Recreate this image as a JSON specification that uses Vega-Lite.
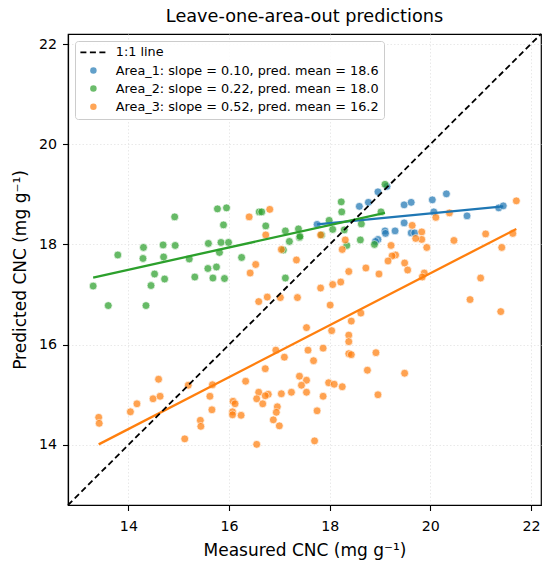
{
  "$schema": "https://vega.github.io/schema/vega-lite/v6.json",
  "width": 473,
  "height": 471,
  "autosize": {"type": "none"},
  "padding": {"left": 68, "top": 34, "right": 9, "bottom": 63},
  "background": "white",
  "title": {
    "text": "Leave-one-area-out predictions",
    "fontSize": 17.7,
    "fontWeight": "normal",
    "color": "black",
    "offset": 5
  },
  "datasets": {
    "pts": [
      {"area": "Area_1", "measured": 17.75, "predicted": 18.40},
      {"area": "Area_1", "measured": 18.59, "predicted": 18.76},
      {"area": "Area_1", "measured": 18.77, "predicted": 18.84},
      {"area": "Area_1", "measured": 18.96, "predicted": 19.05},
      {"area": "Area_1", "measured": 19.14, "predicted": 19.16},
      {"area": "Area_1", "measured": 19.48, "predicted": 18.79},
      {"area": "Area_1", "measured": 19.62, "predicted": 18.84},
      {"area": "Area_1", "measured": 20.04, "predicted": 18.89},
      {"area": "Area_1", "measured": 20.32, "predicted": 19.01},
      {"area": "Area_1", "measured": 20.07, "predicted": 18.65},
      {"area": "Area_1", "measured": 20.73, "predicted": 18.57},
      {"area": "Area_1", "measured": 21.36, "predicted": 18.73},
      {"area": "Area_1", "measured": 21.45, "predicted": 18.77},
      {"area": "Area_1", "measured": 19.48, "predicted": 18.43},
      {"area": "Area_1", "measured": 19.10, "predicted": 18.27},
      {"area": "Area_1", "measured": 19.11, "predicted": 18.22},
      {"area": "Area_1", "measured": 19.30, "predicted": 18.27},
      {"area": "Area_1", "measured": 19.62, "predicted": 18.23},
      {"area": "Area_1", "measured": 19.69, "predicted": 18.23},
      {"area": "Area_1", "measured": 18.96, "predicted": 18.10},
      {"area": "Area_1", "measured": 18.91, "predicted": 18.06},
      {"area": "Area_2", "measured": 13.30, "predicted": 17.17},
      {"area": "Area_2", "measured": 13.60, "predicted": 16.78},
      {"area": "Area_2", "measured": 13.79, "predicted": 17.79},
      {"area": "Area_2", "measured": 14.30, "predicted": 17.94},
      {"area": "Area_2", "measured": 14.29, "predicted": 17.72},
      {"area": "Area_2", "measured": 14.35, "predicted": 16.78},
      {"area": "Area_2", "measured": 14.45, "predicted": 17.18},
      {"area": "Area_2", "measured": 14.52, "predicted": 17.41},
      {"area": "Area_2", "measured": 14.69, "predicted": 17.99},
      {"area": "Area_2", "measured": 14.70, "predicted": 17.75},
      {"area": "Area_2", "measured": 14.72, "predicted": 17.31},
      {"area": "Area_2", "measured": 14.92, "predicted": 18.55},
      {"area": "Area_2", "measured": 14.93, "predicted": 17.98},
      {"area": "Area_2", "measured": 15.21, "predicted": 17.71},
      {"area": "Area_2", "measured": 15.32, "predicted": 17.35},
      {"area": "Area_2", "measured": 15.58, "predicted": 17.52},
      {"area": "Area_2", "measured": 15.59, "predicted": 18.02},
      {"area": "Area_2", "measured": 15.68, "predicted": 17.33},
      {"area": "Area_2", "measured": 15.75, "predicted": 17.55},
      {"area": "Area_2", "measured": 15.77, "predicted": 18.71},
      {"area": "Area_2", "measured": 15.81, "predicted": 17.84},
      {"area": "Area_2", "measured": 15.84, "predicted": 18.04},
      {"area": "Area_2", "measured": 15.89, "predicted": 18.39},
      {"area": "Area_2", "measured": 15.91, "predicted": 17.32},
      {"area": "Area_2", "measured": 15.95, "predicted": 18.73},
      {"area": "Area_2", "measured": 15.99, "predicted": 18.04},
      {"area": "Area_2", "measured": 16.25, "predicted": 17.74},
      {"area": "Area_2", "measured": 16.60, "predicted": 18.65},
      {"area": "Area_2", "measured": 16.65, "predicted": 18.65},
      {"area": "Area_2", "measured": 16.73, "predicted": 18.37},
      {"area": "Area_2", "measured": 17.08, "predicted": 17.89},
      {"area": "Area_2", "measured": 17.12, "predicted": 18.27},
      {"area": "Area_2", "measured": 17.12, "predicted": 17.33},
      {"area": "Area_2", "measured": 17.20, "predicted": 18.06},
      {"area": "Area_2", "measured": 17.38, "predicted": 18.31},
      {"area": "Area_2", "measured": 17.40, "predicted": 18.14},
      {"area": "Area_2", "measured": 17.41, "predicted": 18.16},
      {"area": "Area_2", "measured": 18.23, "predicted": 18.85},
      {"area": "Area_2", "measured": 18.24, "predicted": 18.65},
      {"area": "Area_2", "measured": 19.10, "predicted": 19.20},
      {"area": "Area_2", "measured": 19.02, "predicted": 18.65},
      {"area": "Area_2", "measured": 18.63, "predicted": 18.41},
      {"area": "Area_2", "measured": 17.99, "predicted": 18.48},
      {"area": "Area_2", "measured": 18.06, "predicted": 18.30},
      {"area": "Area_2", "measured": 18.29, "predicted": 18.29},
      {"area": "Area_2", "measured": 17.84, "predicted": 18.19},
      {"area": "Area_2", "measured": 18.61, "predicted": 18.09},
      {"area": "Area_2", "measured": 18.89, "predicted": 18.00},
      {"area": "Area_2", "measured": 18.34, "predicted": 17.98},
      {"area": "Area_3", "measured": 16.40, "predicted": 18.55},
      {"area": "Area_3", "measured": 16.81, "predicted": 18.70},
      {"area": "Area_3", "measured": 16.73, "predicted": 18.19},
      {"area": "Area_3", "measured": 17.04, "predicted": 17.90},
      {"area": "Area_3", "measured": 17.34, "predicted": 17.69},
      {"area": "Area_3", "measured": 16.53, "predicted": 17.60},
      {"area": "Area_3", "measured": 16.42, "predicted": 17.43},
      {"area": "Area_3", "measured": 16.59, "predicted": 16.86},
      {"area": "Area_3", "measured": 16.76, "predicted": 16.95},
      {"area": "Area_3", "measured": 17.02, "predicted": 16.94},
      {"area": "Area_3", "measured": 17.36, "predicted": 16.94},
      {"area": "Area_3", "measured": 17.54, "predicted": 16.34},
      {"area": "Area_3", "measured": 16.93, "predicted": 15.89},
      {"area": "Area_3", "measured": 17.57, "predicted": 15.89},
      {"area": "Area_3", "measured": 17.10, "predicted": 15.75},
      {"area": "Area_3", "measured": 16.72, "predicted": 15.52},
      {"area": "Area_3", "measured": 17.40, "predicted": 15.37},
      {"area": "Area_3", "measured": 17.54, "predicted": 15.29},
      {"area": "Area_3", "measured": 17.44, "predicted": 15.19},
      {"area": "Area_3", "measured": 17.54, "predicted": 15.05},
      {"area": "Area_3", "measured": 17.24, "predicted": 15.05},
      {"area": "Area_3", "measured": 17.04, "predicted": 15.02},
      {"area": "Area_3", "measured": 16.33, "predicted": 15.27},
      {"area": "Area_3", "measured": 16.59, "predicted": 15.05},
      {"area": "Area_3", "measured": 16.78, "predicted": 15.01},
      {"area": "Area_3", "measured": 16.72, "predicted": 14.98},
      {"area": "Area_3", "measured": 16.55, "predicted": 14.92},
      {"area": "Area_3", "measured": 16.67, "predicted": 14.82},
      {"area": "Area_3", "measured": 16.96, "predicted": 14.76},
      {"area": "Area_3", "measured": 16.94, "predicted": 14.65},
      {"area": "Area_3", "measured": 16.88, "predicted": 14.50},
      {"area": "Area_3", "measured": 17.00, "predicted": 14.38},
      {"area": "Area_3", "measured": 16.55, "predicted": 14.01},
      {"area": "Area_3", "measured": 16.08, "predicted": 14.87},
      {"area": "Area_3", "measured": 16.12, "predicted": 14.82},
      {"area": "Area_3", "measured": 16.07, "predicted": 14.66},
      {"area": "Area_3", "measured": 16.07, "predicted": 14.60},
      {"area": "Area_3", "measured": 16.24, "predicted": 14.59},
      {"area": "Area_3", "measured": 15.67, "predicted": 15.20},
      {"area": "Area_3", "measured": 15.62, "predicted": 14.97},
      {"area": "Area_3", "measured": 15.66, "predicted": 14.70},
      {"area": "Area_3", "measured": 15.43, "predicted": 14.49},
      {"area": "Area_3", "measured": 15.44, "predicted": 14.37},
      {"area": "Area_3", "measured": 15.12, "predicted": 14.12},
      {"area": "Area_3", "measured": 15.19, "predicted": 15.19},
      {"area": "Area_3", "measured": 14.60, "predicted": 15.31},
      {"area": "Area_3", "measured": 14.49, "predicted": 14.92},
      {"area": "Area_3", "measured": 14.63, "predicted": 14.97},
      {"area": "Area_3", "measured": 14.17, "predicted": 14.82},
      {"area": "Area_3", "measured": 14.04, "predicted": 14.66},
      {"area": "Area_3", "measured": 13.41, "predicted": 14.55},
      {"area": "Area_3", "measured": 13.42, "predicted": 14.43},
      {"area": "Area_3", "measured": 18.01, "predicted": 16.79},
      {"area": "Area_3", "measured": 18.62, "predicted": 16.63},
      {"area": "Area_3", "measured": 18.43, "predicted": 16.47},
      {"area": "Area_3", "measured": 18.04, "predicted": 16.28},
      {"area": "Area_3", "measured": 18.38, "predicted": 16.19},
      {"area": "Area_3", "measured": 18.38, "predicted": 16.06},
      {"area": "Area_3", "measured": 17.87, "predicted": 15.93},
      {"area": "Area_3", "measured": 18.38, "predicted": 15.82},
      {"area": "Area_3", "measured": 18.43, "predicted": 15.80},
      {"area": "Area_3", "measured": 18.92, "predicted": 15.84},
      {"area": "Area_3", "measured": 17.68, "predicted": 15.68},
      {"area": "Area_3", "measured": 18.75, "predicted": 15.49},
      {"area": "Area_3", "measured": 19.49, "predicted": 15.43},
      {"area": "Area_3", "measured": 17.98, "predicted": 15.24},
      {"area": "Area_3", "measured": 18.09, "predicted": 15.21},
      {"area": "Area_3", "measured": 18.25, "predicted": 15.16},
      {"area": "Area_3", "measured": 17.87, "predicted": 14.97},
      {"area": "Area_3", "measured": 18.96, "predicted": 15.00},
      {"area": "Area_3", "measured": 17.75, "predicted": 14.68},
      {"area": "Area_3", "measured": 17.70, "predicted": 14.08},
      {"area": "Area_3", "measured": 20.79, "predicted": 16.90},
      {"area": "Area_3", "measured": 21.40, "predicted": 16.66},
      {"area": "Area_3", "measured": 21.71, "predicted": 18.87},
      {"area": "Area_3", "measured": 21.64, "predicted": 18.22},
      {"area": "Area_3", "measured": 21.42, "predicted": 17.94},
      {"area": "Area_3", "measured": 21.10, "predicted": 18.21},
      {"area": "Area_3", "measured": 21.00, "predicted": 17.33},
      {"area": "Area_3", "measured": 20.47, "predicted": 18.08},
      {"area": "Area_3", "measured": 20.38, "predicted": 18.63},
      {"area": "Area_3", "measured": 20.11, "predicted": 18.54},
      {"area": "Area_3", "measured": 19.93, "predicted": 17.94},
      {"area": "Area_3", "measured": 19.83, "predicted": 18.25},
      {"area": "Area_3", "measured": 19.83, "predicted": 18.10},
      {"area": "Area_3", "measured": 19.71, "predicted": 18.12},
      {"area": "Area_3", "measured": 19.64, "predicted": 18.38},
      {"area": "Area_3", "measured": 19.22, "predicted": 17.98},
      {"area": "Area_3", "measured": 19.31, "predicted": 17.79},
      {"area": "Area_3", "measured": 19.24, "predicted": 17.77},
      {"area": "Area_3", "measured": 19.16, "predicted": 17.67},
      {"area": "Area_3", "measured": 19.49, "predicted": 17.63},
      {"area": "Area_3", "measured": 19.55, "predicted": 17.49},
      {"area": "Area_3", "measured": 19.88, "predicted": 17.43},
      {"area": "Area_3", "measured": 19.84, "predicted": 17.35},
      {"area": "Area_3", "measured": 18.98, "predicted": 17.41},
      {"area": "Area_3", "measured": 18.72, "predicted": 17.53},
      {"area": "Area_3", "measured": 18.38, "predicted": 17.46},
      {"area": "Area_3", "measured": 18.22, "predicted": 17.25},
      {"area": "Area_3", "measured": 18.06, "predicted": 17.20},
      {"area": "Area_3", "measured": 17.82, "predicted": 17.13},
      {"area": "Area_3", "measured": 18.25, "predicted": 17.90},
      {"area": "Area_3", "measured": 18.31, "predicted": 18.09},
      {"area": "Area_3", "measured": 17.82, "predicted": 18.19}
    ],
    "fits": [
      {"area": "Area_1", "measured": 17.75, "predicted": 18.40},
      {"area": "Area_1", "measured": 21.45, "predicted": 18.76},
      {"area": "Area_2", "measured": 13.30, "predicted": 17.34},
      {"area": "Area_2", "measured": 19.10, "predicted": 18.63},
      {"area": "Area_3", "measured": 13.41, "predicted": 14.01},
      {"area": "Area_3", "measured": 21.71, "predicted": 18.31}
    ],
    "diag": [
      {"area": "1:1 line", "measured": 12.8, "predicted": 12.8},
      {"area": "1:1 line", "measured": 22.2, "predicted": 22.2}
    ]
  },
  "encoding": {
    "x": {
      "field": "measured",
      "type": "quantitative",
      "title": "Measured CNC (mg g⁻¹)",
      "scale": {"domain": [12.8, 22.2], "nice": false, "zero": false},
      "axis": {"values": [14, 16, 18, 20, 22]}
    },
    "y": {
      "field": "predicted",
      "type": "quantitative",
      "title": "Predicted CNC (mg g⁻¹)",
      "scale": {"domain": [12.8, 22.2], "nice": false, "zero": false},
      "axis": {"values": [14, 16, 18, 20, 22]}
    },
    "color": {
      "field": "area",
      "type": "nominal",
      "scale": {
        "domain": ["1:1 line", "Area_1", "Area_2", "Area_3"],
        "range": ["#000000", "#1f77b4", "#2ca02c", "#ff7f0e"]
      },
      "legend": {
        "orient": "top-left",
        "title": null,
        "offset": 6.5,
        "padding": 5,
        "strokeColor": "#cccccc",
        "fillColor": "rgba(255,255,255,0.85)",
        "cornerRadius": 3,
        "labelFontSize": 12.8,
        "labelColor": "black",
        "labelLimit": 400,
        "labelOffset": 16,
        "symbolOffset": 7,
        "rowPadding": 4.1,
        "symbolSize": 676,
        "labelExpr": "datum.label === 'Area_1' ? 'Area_1: slope = 0.10, pred. mean = 18.6' : datum.label === 'Area_2' ? 'Area_2: slope = 0.22, pred. mean = 18.0' : datum.label === 'Area_3' ? 'Area_3: slope = 0.52, pred. mean = 16.2' : datum.label",
        "encode": {
          "symbols": {
            "update": {
              "shape": {"signal": "datum.value === '1:1 line' ? 'stroke' : 'circle'"},
              "size": {"signal": "datum.value === '1:1 line' ? 676 : 42"},
              "strokeDash": {"signal": "datum.value === '1:1 line' ? [6, 3.5] : [1, 0]"},
              "stroke": {"signal": "datum.value === '1:1 line' ? 'black' : 'white'"},
              "strokeWidth": {"signal": "datum.value === '1:1 line' ? 1.8 : 0"},
              "fill": {"signal": "datum.value === 'Area_1' ? '#1f77b4' : datum.value === 'Area_2' ? '#2ca02c' : datum.value === 'Area_3' ? '#ff7f0e' : 'transparent'"},
              "fillOpacity": {"value": 0.7},
              "opacity": {"value": 1}
            }
          }
        }
      }
    }
  },
  "layer": [
    {
      "data": {"name": "pts"},
      "mark": {"type": "circle", "size": 62, "opacity": 0.72, "stroke": "white", "strokeWidth": 0.7, "strokeOpacity": 1}
    },
    {
      "data": {"name": "fits"},
      "mark": {"type": "line", "strokeWidth": 2.3}
    },
    {
      "data": {"name": "diag"},
      "mark": {"type": "line", "strokeWidth": 1.8, "strokeDash": [6, 3.5]}
    }
  ],
  "config": {
    "font": "DejaVu Sans",
    "view": {"stroke": "black", "strokeWidth": 1.2},
    "axis": {
      "domainColor": "black",
      "domainWidth": 1.2,
      "tickColor": "black",
      "tickWidth": 1.1,
      "tickSize": 5.5,
      "labelColor": "black",
      "labelFontSize": 14.2,
      "labelPadding": 6,
      "titleColor": "black",
      "titleFontSize": 17,
      "titleFontWeight": "normal",
      "gridColor": "#e3e3e3",
      "gridDash": [1.5, 2],
      "gridWidth": 0.8
    },
    "axisX": {"titlePadding": 9, "labelPadding": 9},
    "axisY": {"titlePadding": 9}
  }
}
